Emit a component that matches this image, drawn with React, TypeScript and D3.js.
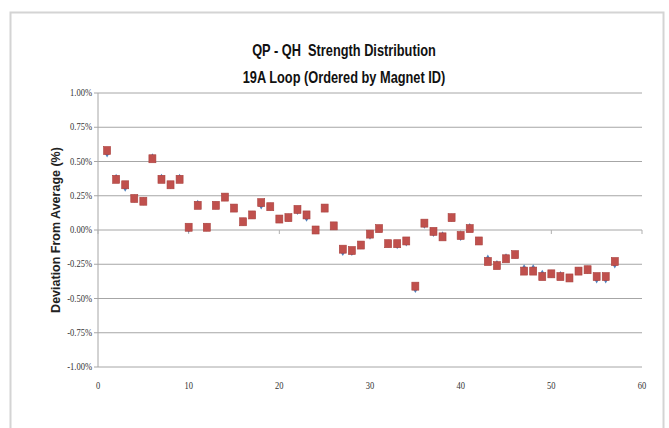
import * as d3 from "d3";

// magnet index 1..57, deviation in %
const magnetIds = d3.range(1, 58);
const squareSeries = [
  0.58, 0.37, 0.33, 0.23, 0.21, 0.52, 0.37, 0.33, 0.37, 0.02,
  0.18, 0.02, 0.18, 0.24, 0.16, 0.06, 0.11, 0.20, 0.17, 0.08,
  0.09, 0.15, 0.11, 0.00, 0.16, 0.03, -0.14, -0.15, -0.11, -0.03,
  0.01, -0.10, -0.10, -0.08, -0.41, 0.05, -0.01, -0.05, 0.09, -0.04,
  0.01, -0.08, -0.23, -0.26, -0.21, -0.18, -0.30, -0.30, -0.34, -0.32,
  -0.34, -0.35, -0.30, -0.29, -0.34, -0.34, -0.23,
];
const diamondSeries = [
  0.56, 0.38, 0.31, 0.23, 0.21, 0.53, 0.38, 0.33, 0.38, 0.01,
  0.19, 0.02, 0.18, 0.24, 0.16, 0.06, 0.11, 0.18, 0.17, 0.08,
  0.09, 0.14, 0.09, 0.00, 0.16, 0.03, -0.16, -0.16, -0.11, -0.04,
  0.01, -0.10, -0.11, -0.09, -0.43, 0.04, -0.02, -0.04, 0.09, -0.05,
  0.02, -0.08, -0.21, -0.25, -0.20, -0.18, -0.28, -0.28, -0.32, -0.32,
  -0.33, -0.35, -0.30, -0.29, -0.36, -0.36, -0.25,
];
const yTicks = [1, 0.75, 0.5, 0.25, 0, -0.25, -0.5, -0.75, -1];
const xTicks = [0, 10, 20, 30, 40, 50, 60];
const titleLines = ["QP - QH  Strength Distribution", "19A Loop (Ordered by Magnet ID)"];
const yTitle = "Deviation From Average (%)";

const W = 669;
const H = 428;

export default function App() {
  const x = d3.scaleLinear().domain([0, 60]).range([98, 642]);
  const y = d3.scaleLinear().domain([-1, 1]).range([367, 93]);
  const fmt = (v: number) => `${v.toFixed(2)}%`;
  const diamond = d3.symbol().type(d3.symbolDiamond).size(20)();

  return (
    <svg width={W} height={H} style={{ position: "absolute", left: 0, top: 0, background: "#fff" }}>
      <rect x={10.5} y={12.5} width={653} height={430} fill="#fff" stroke="#d4d4d4" strokeWidth={2} />

      {titleLines.map((t, i) => (
        <text
          key={t}
          transform={`translate(344, ${56 + i * 27}) scale(0.8, 1)`}
          textAnchor="middle"
          fontFamily="'Liberation Sans', Arial, sans-serif"
          fontWeight="bold"
          fontSize={16}
          fill="#111"
          style={{ whiteSpace: "pre" }}
        >
          {t}
        </text>
      ))}

      {yTicks.map((t) => (
        <g key={t}>
          <line x1={x(0)} x2={x(60)} y1={y(t)} y2={y(t)} stroke="#a6a6a6" strokeWidth={1} />
          <line x1={x(0) - 4} x2={x(0)} y1={y(t)} y2={y(t)} stroke="#a6a6a6" strokeWidth={1} />
          <text
            transform={`translate(${x(0) - 6}, ${y(t)}) scale(0.85, 1)`}
            dy="0.32em"
            textAnchor="end"
            fontFamily="'Liberation Serif', serif"
            fontSize={10}
            fill="#333"
          >
            {fmt(t)}
          </text>
        </g>
      ))}
      <line x1={x(0)} x2={x(0)} y1={y(1)} y2={y(-1)} stroke="#a6a6a6" strokeWidth={1} />

      {xTicks.map((t) => (
        <g key={t}>
          <line x1={x(t)} x2={x(t)} y1={y(0)} y2={y(0) + 4} stroke="#b0b0b0" strokeWidth={1} />
          <text
            transform={`translate(${x(t)}, 386) scale(0.85, 1)`}
            dy="0.32em"
            textAnchor="middle"
            fontFamily="'Liberation Serif', serif"
            fontSize={10}
            fill="#333"
          >
            {t}
          </text>
        </g>
      ))}

      <text
        transform={`translate(56, ${y(0)}) rotate(-90)`}
        textAnchor="middle"
        dy="0.35em"
        fontFamily="'Liberation Sans', Arial, sans-serif"
        fontWeight="bold"
        fontSize={12.5}
        fill="#222"
      >
        {yTitle}
      </text>

      {magnetIds.map((id, i) => (
        <path
          key={`d${id}`}
          d={diamond ?? ""}
          transform={`translate(${x(id)}, ${y(diamondSeries[i])})`}
          fill="#4f81bd"
        />
      ))}
      {magnetIds.map((id, i) => (
        <rect
          key={`s${id}`}
          x={x(id) - 3.5}
          y={y(squareSeries[i]) - 4}
          width={7}
          height={8}
          fill="#c0504d"
          stroke="#a9403d"
          strokeWidth={0.6}
        />
      ))}
    </svg>
  );
}
